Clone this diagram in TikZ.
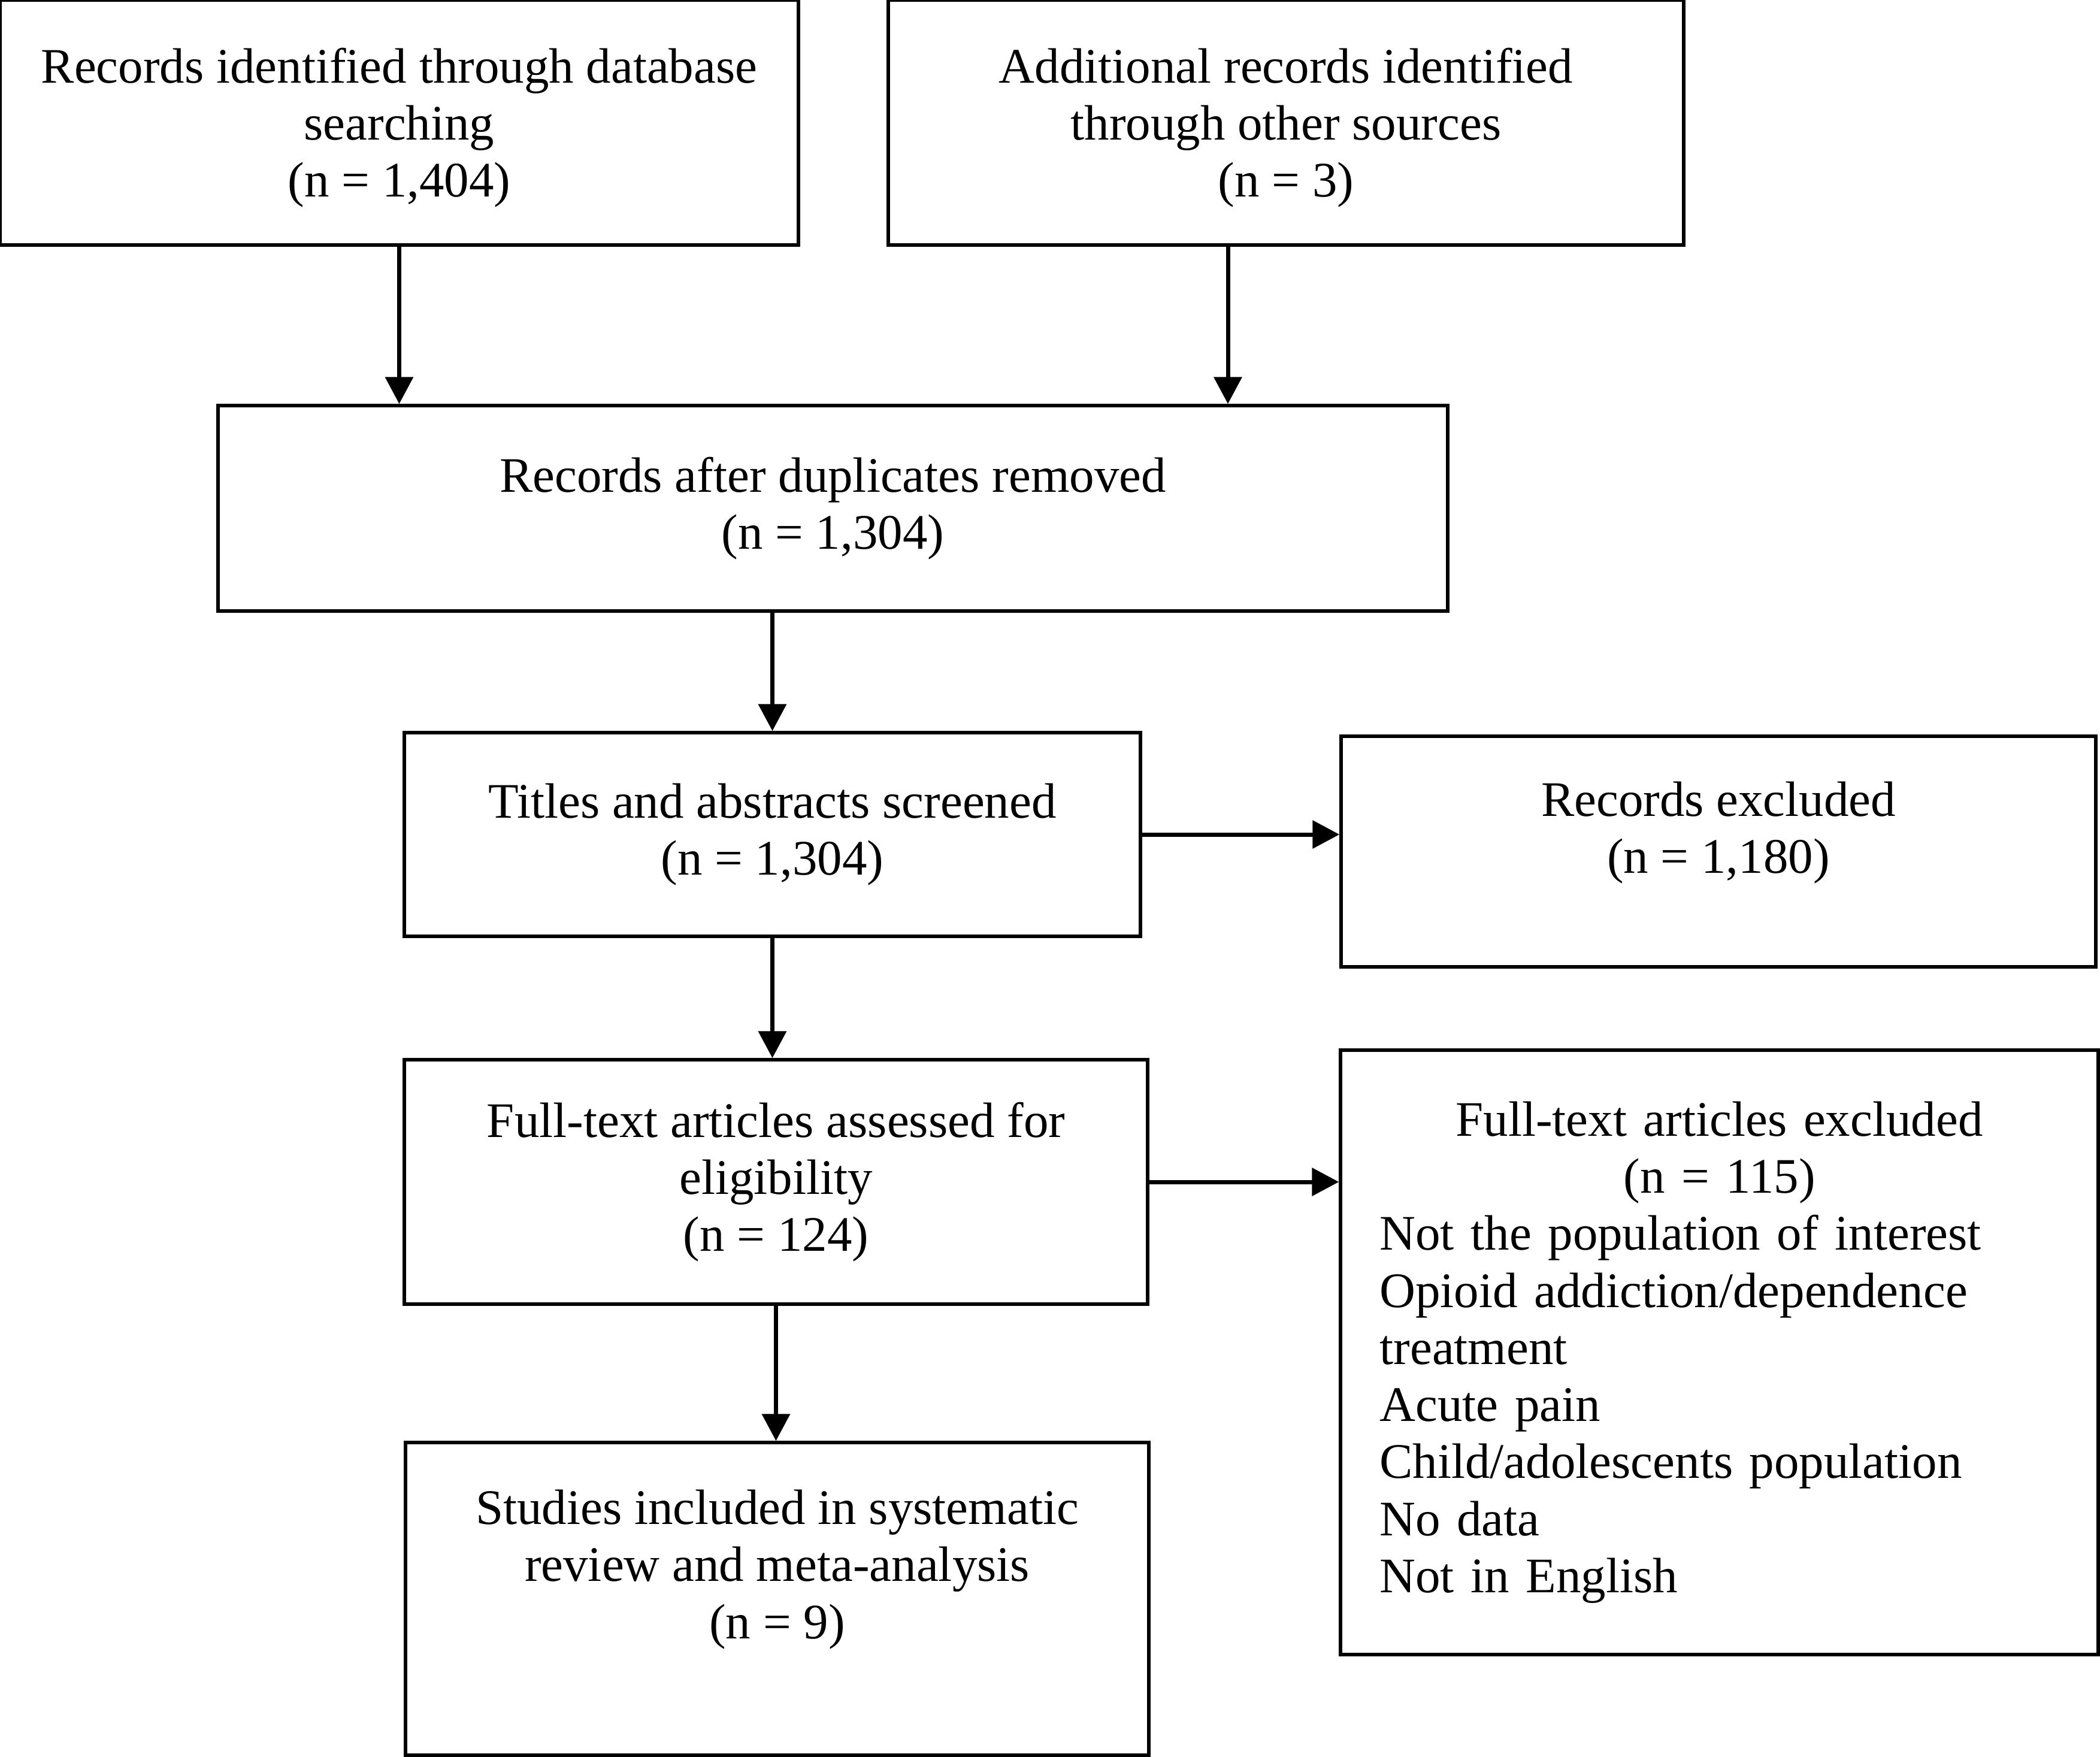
\documentclass[tikz,border=0pt]{standalone}
\usepackage{fontspec}
\setmainfont{Liberation Serif}
\usetikzlibrary{arrows.meta}

\begin{document}
\begin{tikzpicture}[>={Triangle[length=4.5mm,width=4.6mm]}]
        \tikzstyle{every node}=[font=\fontsize{23.6}{27.1}\selectfont]
        \tikzstyle{box}=[draw, rectangle, line width=0.55mm, align=center, inner sep=0pt]

        \useasboundingbox (0,0) rectangle (35.06,-29.33);

        \node[box, minimum width=13.33cm, minimum height=4.09cm, text depth=0cm] (r0) at (6.665,-2.045)
            {Records identified through database\\searching\\(n = 1,404)};
        \node[box, minimum width=13.28cm, minimum height=4.09cm, text depth=0cm] (r1) at (21.47,-2.045)
            {Additional records identified\\through other sources\\(n = 3)};
        \node[box, minimum width=20.53cm, minimum height=3.43cm] (r2) at (13.905,-8.485)
            {Records after duplicates removed\\(n = 1,304)};
        \node[box, minimum width=12.29cm, minimum height=3.40cm] (r3) at (12.895,-13.93)
            {Titles and abstracts screened\\(n = 1,304)};
        \node[box, minimum width=12.60cm, minimum height=3.85cm, text depth=0.80cm] (r4) at (28.69,-14.215)
            {Records excluded\\(n = 1,180)};
        \node[box, minimum width=12.41cm, minimum height=4.08cm] (r5) at (12.955,-19.73)
            {Full-text articles assessed for\\eligibility\\(n = 124)};
        \node[box, minimum width=12.65cm, minimum height=10.09cm, text width=11.34cm, align=left] (r6) at (28.705,-22.575)
            {\makebox[11.34cm][c]{Full-text articles excluded}\\
             \makebox[11.34cm][c]{(n = 115)}\\
             Not the population of interest\\
             Opioid addiction/dependence\\
             treatment\\
             Acute pain\\
             Child/adolescents population\\
             No data\\
             Not in English};
        \node[box, minimum width=12.41cm, minimum height=5.22cm, text depth=1.16cm] (r7) at (12.975,-26.69)
            {Studies included in systematic\\review and meta-analysis\\(n = 9)};

        \path[->, line width=0.7mm]
            (r0.south) edge (r0.south |- r2.north)
            ([xshift=-9.7mm]r1.south) edge ([xshift=-9.7mm]r1.south |- r2.north)

            (r3.north |- r2.south) edge (r3.north)
            (r3.east) edge (r3.east -| r4.west)
            (r3.south) edge (r3.south |- r5.north)

            (r5.east) edge (r5.east -| r6.west)
            (r5.south) edge (r5.south |- r7.north)
        ;
\end{tikzpicture}
\end{document}
